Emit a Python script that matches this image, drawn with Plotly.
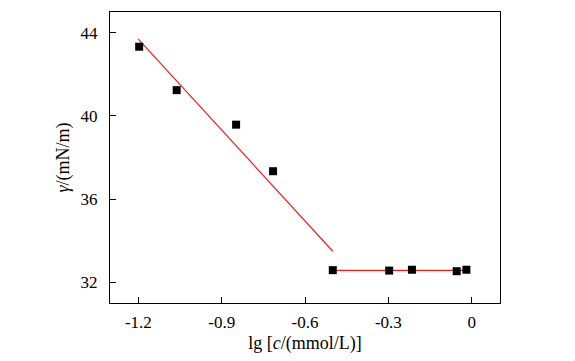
import plotly.graph_objects as go

# data
lg_c = [-1.197, -1.062, -0.848, -0.715, -0.500, -0.297, -0.215, -0.054, -0.019]
gamma = [43.33, 41.24, 39.58, 37.34, 32.58, 32.56, 32.60, 32.53, 32.60]

fit1_x = [-1.201, -0.500]
fit1_y = [43.71, 33.49]
fit2_x = [-0.500, -0.017]
fit2_y = [32.57, 32.57]

x_tickvals = [-1.2, -0.9, -0.6, -0.3, 0]
x_ticktext = ["-1.2", "-0.9", "-0.6", "-0.3", "0"]
y_tickvals = [32, 36, 40, 44]
y_ticktext = ["32", "36", "40", "44"]

FONT = "Liberation Serif, Times New Roman, serif"

fig = go.Figure()
fig.add_trace(go.Scatter(x=fit1_x, y=fit1_y, mode="lines",
                         line=dict(color="#e8201c", width=1.2), showlegend=False))
fig.add_trace(go.Scatter(x=fit2_x, y=fit2_y, mode="lines",
                         line=dict(color="#e8201c", width=1.2), showlegend=False))
fig.add_trace(go.Scatter(x=lg_c, y=gamma, mode="markers",
                         marker=dict(symbol="square", size=8, color="black",
                                     line=dict(width=0)), showlegend=False))

fig.update_layout(
    width=567, height=353,
    margin=dict(l=102, r=75, t=4, b=58),
    paper_bgcolor="white", plot_bgcolor="white",
    font=dict(family=FONT, size=17, color="black"),
    xaxis=dict(range=[-1.302, 0.102], tickvals=x_tickvals, ticktext=x_ticktext,
               ticks="inside", ticklen=6, tickwidth=1, tickcolor="black",
               showline=True, linecolor="black", linewidth=1, mirror=True,
               showgrid=False, zeroline=False, ticklabelstandoff=4,
               title=dict(text="lg [<i>c</i>/(mmol/L)]", standoff=4,
                          font=dict(family=FONT, size=18))),
    yaxis=dict(range=[31, 45], tickvals=y_tickvals, ticktext=y_ticktext,
               ticks="inside", ticklen=6, tickwidth=1, tickcolor="black",
               showline=True, linecolor="black", linewidth=1, mirror=True,
               showgrid=False, zeroline=False, ticklabelstandoff=8,
               title=dict(text="<i>γ</i>/(mN/m)", standoff=6,
                          font=dict(family=FONT, size=18))),
)

fig.write_html("out.html")
